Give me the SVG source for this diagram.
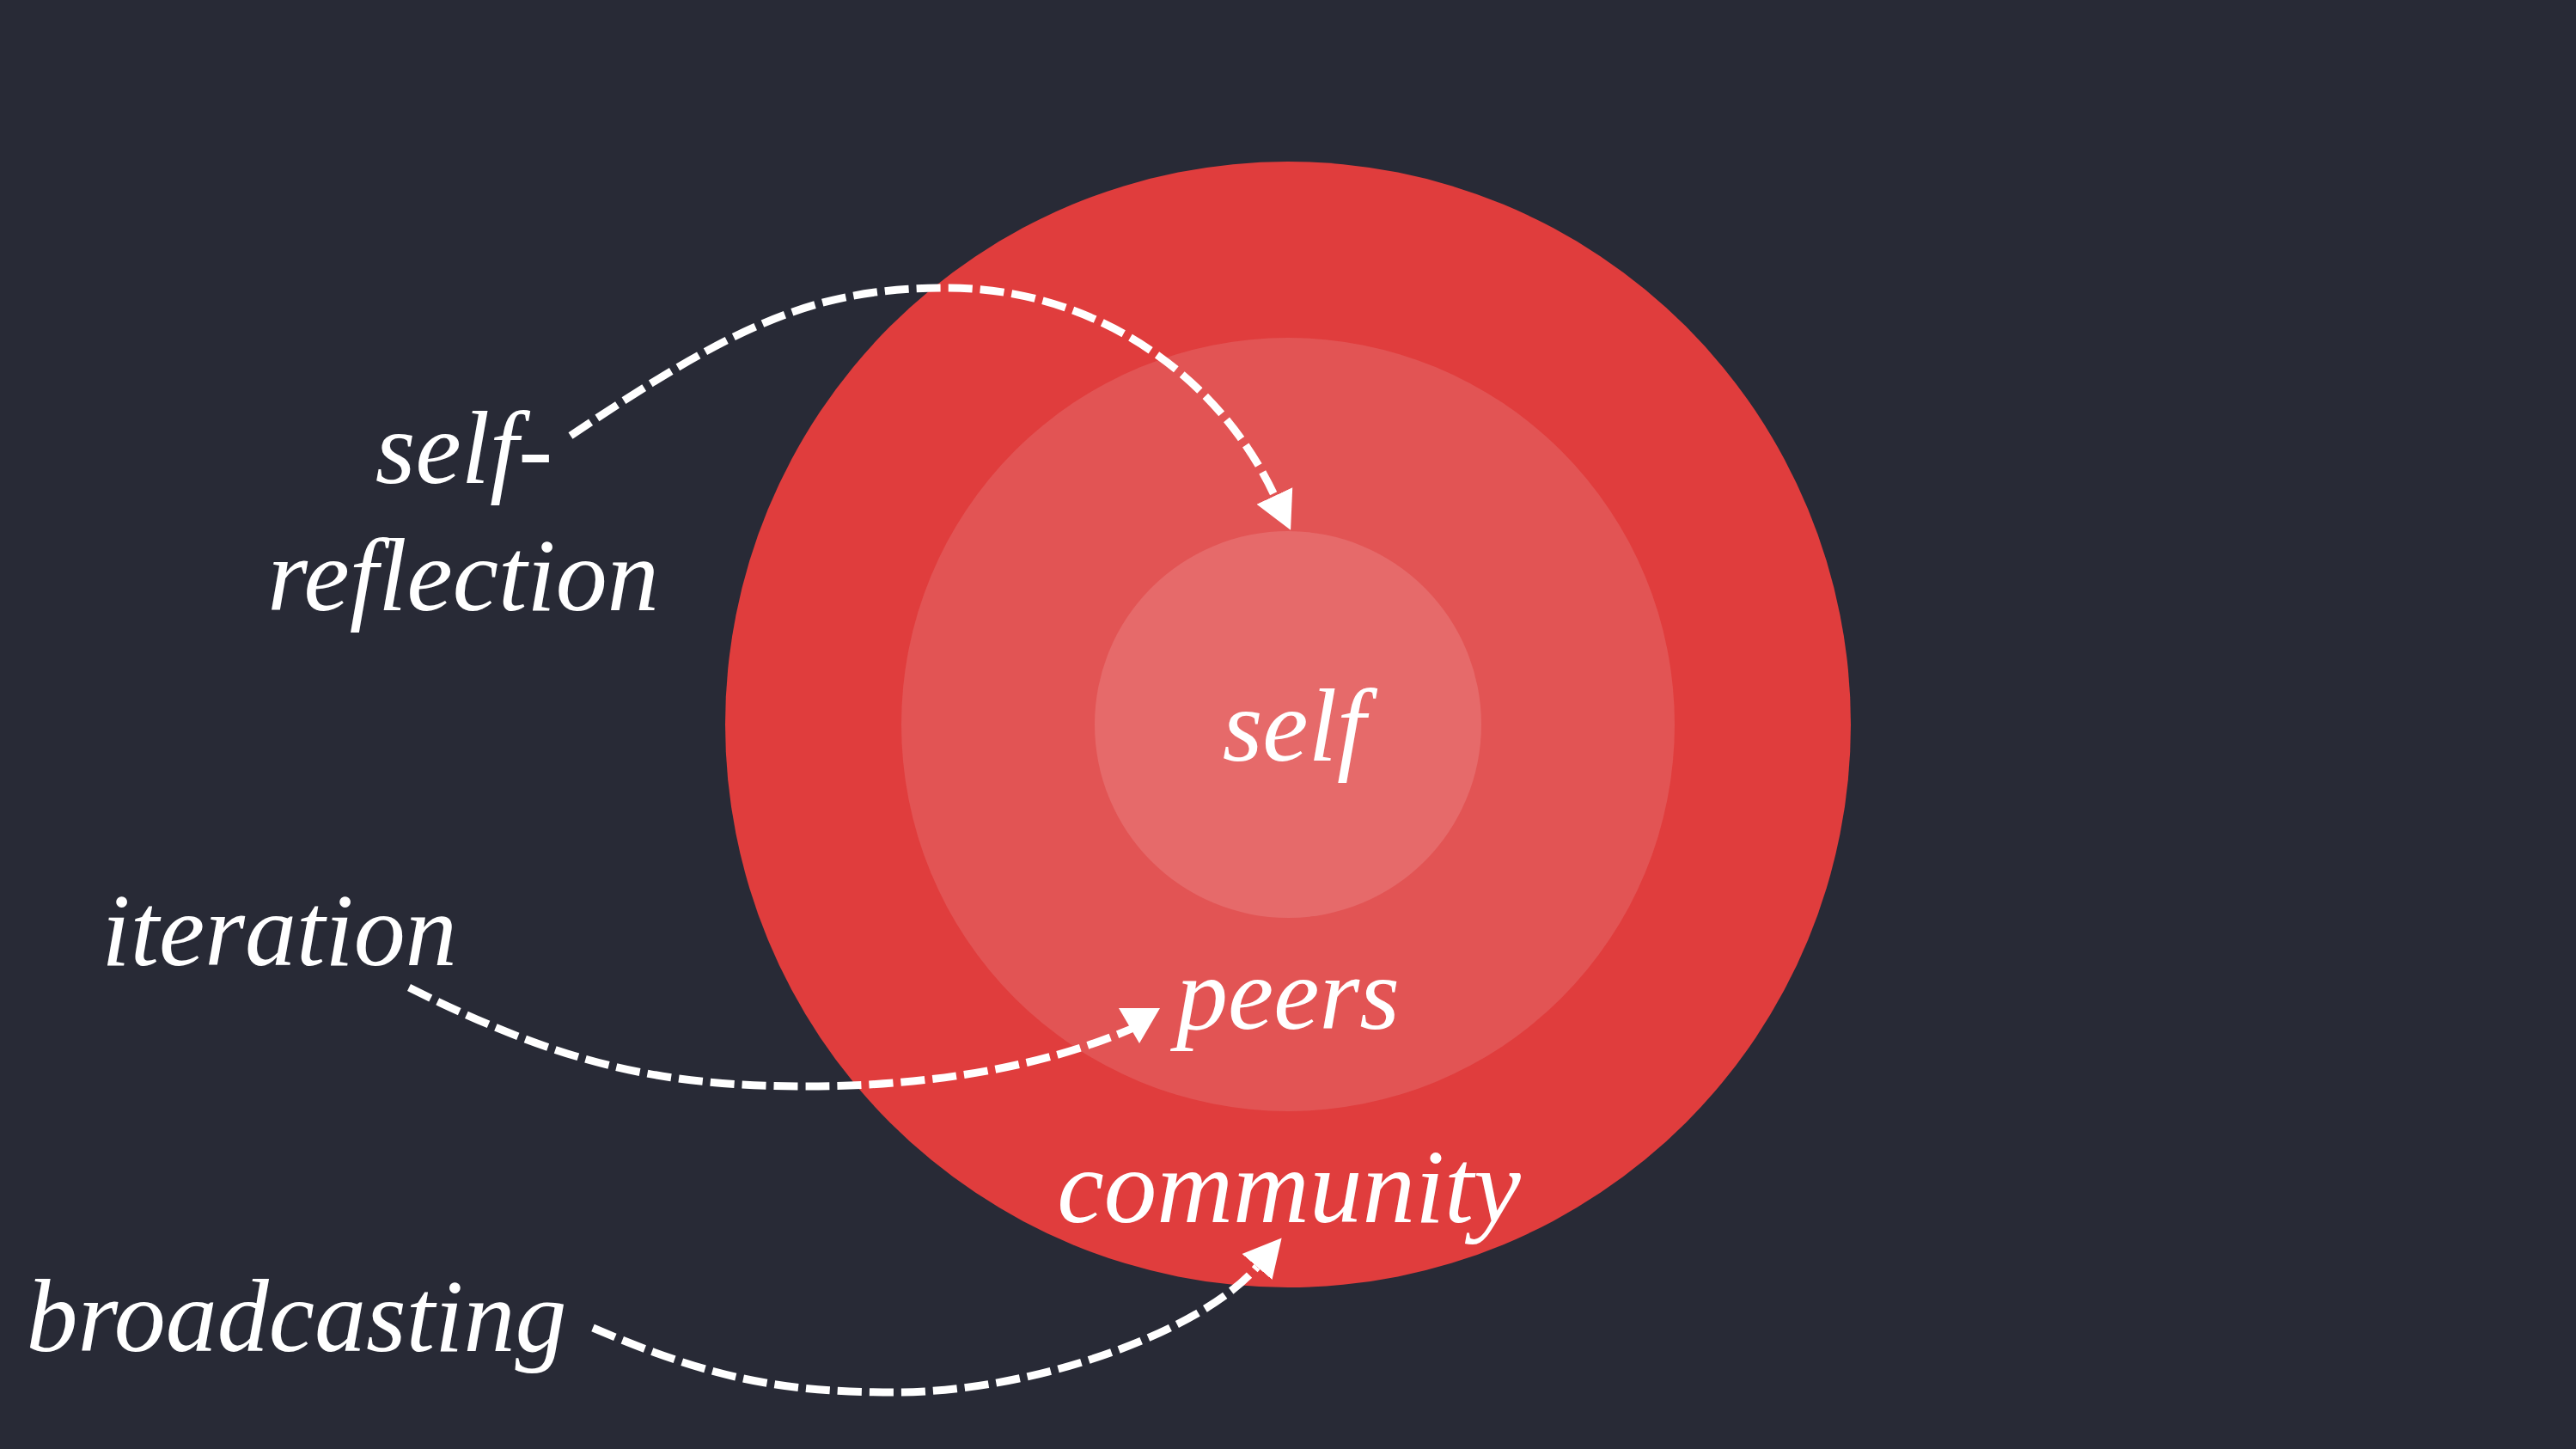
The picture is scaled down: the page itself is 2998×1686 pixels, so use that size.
<svg xmlns="http://www.w3.org/2000/svg" width="2998" height="1686" viewBox="0 0 2998 1686">
  <style>
    .label { font-family: "Liberation Serif", "Times New Roman", serif; font-style: italic; font-size: 120px; fill: #ffffff; text-anchor: middle; }
    .flow { fill: none; stroke: #ffffff; stroke-width: 9; stroke-dasharray: 28 9; }
  </style>
  <defs>
    <!-- arrowhead that follows the path direction -->
    <marker id="head" markerUnits="userSpaceOnUse" markerWidth="50" markerHeight="50" viewBox="0 -25 50 50" refX="0" refY="0" orient="auto">
      <path d="M0,-23 L44,0 L0,23 z" fill="#ffffff"/>
    </marker>
    <!-- arrowhead fixed pointing downward -->
    <marker id="head-down" markerUnits="userSpaceOnUse" markerWidth="50" markerHeight="50" viewBox="0 -25 50 50" refX="20" refY="0" orient="90">
      <path d="M0,-24 L41,0 L0,24 z" fill="#ffffff"/>
    </marker>
  </defs>

  <rect width="2998" height="1686" fill="#282a36"/>

  <g id="community">
    <circle cx="1499" cy="843" r="655" fill="#e03d3d"/>
    <text class="label" x="1500" y="1422" style="font-size:123px">community</text>
  </g>
  <g id="peers">
    <circle cx="1499" cy="843" r="450" fill="#e25454"/>
    <text class="label" x="1499" y="1197">peers</text>
  </g>
  <g id="self">
    <circle cx="1499" cy="843" r="225" fill="#e66a6a"/>
    <text class="label" x="1506" y="885">self</text>
  </g>

  <g id="self-reflection">
    <text class="label" x="540" y="562">self-</text>
    <text class="label" x="539" y="710">reflection</text>
  </g>
  <g id="iteration">
    <text class="label" x="325" y="1123">iteration</text>
  </g>
  <g id="broadcasting">
    <text class="label" x="345" y="1572">broadcasting</text>
  </g>

  <g id="connectors">
    <path class="flow" marker-end="url(#head)" d="M664,507 C860,375 950,335 1103,335 A420,420 0 0 1 1483.4,576.9"/>
    <path class="flow" marker-end="url(#head-down)" d="M476,1149 C656,1239 770,1264 940,1264 C1060,1264 1206,1247 1326,1193"/>
    <path class="flow" marker-end="url(#head)" d="M690,1545 C830,1605 912,1620 1042,1620 C1202,1620 1398,1550 1463,1474"/>
  </g>
</svg>
